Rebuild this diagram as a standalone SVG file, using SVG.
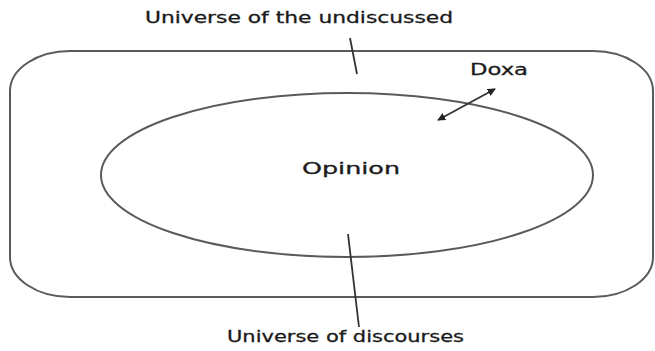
<svg xmlns="http://www.w3.org/2000/svg" width="655" height="351" viewBox="0 0 655 351">
<style>
.shape{fill:none;stroke:#5a5a5a;stroke-width:2}
.ln{stroke:#333;stroke-width:1.8;fill:none}
text{font-family:"DejaVu Sans",Verdana,sans-serif;font-size:16px;fill:#1a1a1a;stroke:#1a1a1a;stroke-width:0.3}
</style>
<defs>
<marker id="ah" viewBox="0 0 10 10" refX="9" refY="5" markerWidth="8" markerHeight="8" orient="auto-start-reverse" markerUnits="userSpaceOnUse">
<path d="M0,0 L10,5 L0,10 z" fill="#222"/>
</marker>
</defs>
<g id="universe-undiscussed">
<rect class="shape" x="10" y="51" width="643" height="246" rx="60" ry="40"/>
<text x="145" y="23" textLength="308" lengthAdjust="spacingAndGlyphs">Universe of the undiscussed</text>
</g>
<g id="opinion">
<ellipse class="shape" cx="347" cy="175" rx="246" ry="82"/>
<text x="302" y="174" textLength="98" lengthAdjust="spacingAndGlyphs">Opinion</text>
</g>
<g id="doxa">
<text x="470" y="75" textLength="58" lengthAdjust="spacingAndGlyphs">Doxa</text>
</g>
<g id="discourses">
<text x="227" y="342" textLength="237" lengthAdjust="spacingAndGlyphs">Universe of discourses</text>
</g>
<g id="connectors">
<line class="ln" x1="350" y1="38" x2="357" y2="74"/>
<line class="ln" x1="348" y1="234" x2="359" y2="327"/>
<line class="ln" x1="438" y1="120" x2="495" y2="89" marker-start="url(#ah)" marker-end="url(#ah)"/>
</g>
</svg>
